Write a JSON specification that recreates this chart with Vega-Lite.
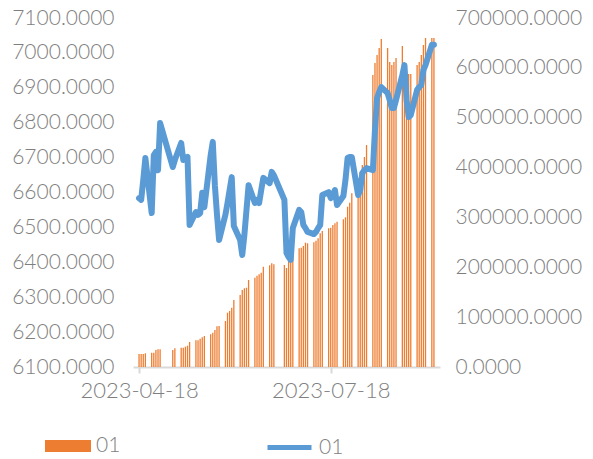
{
  "$schema": "https://vega.github.io/schema/vega-lite/v6.json",
  "width": 307,
  "height": 349,
  "autosize": {"type": "none"},
  "padding": {"left": 133, "top": 18, "right": 153, "bottom": 92},
  "background": "white",
  "config": {
    "view": {"stroke": null},
    "font": "Lato",
    "axis": {"labelFont": "Lato", "labelFontWeight": 300, "labelFontSize": 21, "labelColor": "#7F7F7F", "title": null, "grid": false},
    "legend": {"labelFont": "Lato", "labelFontWeight": 300, "labelFontSize": 21, "labelColor": "#7F7F7F"}
  },
  "data": {"values": [
    {"date": "2023-04-18", "price": 6584, "volume": 26078},
    {"date": "2023-04-19", "price": 6579, "volume": 26078},
    {"date": "2023-04-20", "price": 6636, "volume": 26078},
    {"date": "2023-04-21", "price": 6699, "volume": 27482},
    {"date": "2023-04-24", "price": 6541, "volume": 28686},
    {"date": "2023-04-25", "price": 6707, "volume": 28686},
    {"date": "2023-04-26", "price": 6716, "volume": 34102},
    {"date": "2023-04-27", "price": 6664, "volume": 35506},
    {"date": "2023-04-28", "price": 6799, "volume": 35506},
    {"date": "2023-05-04", "price": 6673, "volume": 34102},
    {"date": "2023-05-05", "price": 6693, "volume": 37512},
    {"date": "2023-05-08", "price": 6742, "volume": 38716},
    {"date": "2023-05-09", "price": 6693, "volume": 38716},
    {"date": "2023-05-10", "price": 6699, "volume": 40722},
    {"date": "2023-05-11", "price": 6702, "volume": 42728},
    {"date": "2023-05-12", "price": 6507, "volume": 50150},
    {"date": "2023-05-15", "price": 6544, "volume": 53560},
    {"date": "2023-05-16", "price": 6536, "volume": 53560},
    {"date": "2023-05-17", "price": 6541, "volume": 56770},
    {"date": "2023-05-18", "price": 6599, "volume": 59578},
    {"date": "2023-05-19", "price": 6558, "volume": 62186},
    {"date": "2023-05-22", "price": 6707, "volume": 65596},
    {"date": "2023-05-23", "price": 6745, "volume": 68806},
    {"date": "2023-05-24", "price": 6621, "volume": 74222},
    {"date": "2023-05-25", "price": 6536, "volume": 81644},
    {"date": "2023-05-26", "price": 6464, "volume": 82246},
    {"date": "2023-05-29", "price": 6536, "volume": 92276},
    {"date": "2023-05-30", "price": 6570, "volume": 108926},
    {"date": "2023-05-31", "price": 6607, "volume": 112336},
    {"date": "2023-06-01", "price": 6644, "volume": 118956},
    {"date": "2023-06-02", "price": 6504, "volume": 134402},
    {"date": "2023-06-05", "price": 6464, "volume": 144432},
    {"date": "2023-06-06", "price": 6421, "volume": 154462},
    {"date": "2023-06-07", "price": 6478, "volume": 157872},
    {"date": "2023-06-08", "price": 6550, "volume": 159076},
    {"date": "2023-06-09", "price": 6621, "volume": 174522},
    {"date": "2023-06-12", "price": 6570, "volume": 179136},
    {"date": "2023-06-13", "price": 6579, "volume": 183148},
    {"date": "2023-06-14", "price": 6570, "volume": 185956},
    {"date": "2023-06-15", "price": 6607, "volume": 189166},
    {"date": "2023-06-16", "price": 6642, "volume": 201202},
    {"date": "2023-06-19", "price": 6627, "volume": 204010},
    {"date": "2023-06-20", "price": 6659, "volume": 208022},
    {"date": "2023-06-21", "price": 6650, "volume": 206016},
    {"date": "2023-06-26", "price": 6579, "volume": 204612},
    {"date": "2023-06-27", "price": 6427, "volume": 198594},
    {"date": "2023-06-28", "price": 6415, "volume": 214642},
    {"date": "2023-06-29", "price": 6407, "volume": 218654},
    {"date": "2023-06-30", "price": 6498, "volume": 228684},
    {"date": "2023-07-03", "price": 6550, "volume": 238112},
    {"date": "2023-07-04", "price": 6544, "volume": 239316},
    {"date": "2023-07-05", "price": 6507, "volume": 242726},
    {"date": "2023-07-06", "price": 6498, "volume": 249346},
    {"date": "2023-07-07", "price": 6487, "volume": 248142},
    {"date": "2023-07-10", "price": 6481, "volume": 250148},
    {"date": "2023-07-11", "price": 6487, "volume": 253358},
    {"date": "2023-07-12", "price": 6498, "volume": 258172},
    {"date": "2023-07-13", "price": 6507, "volume": 268202},
    {"date": "2023-07-14", "price": 6593, "volume": 272816},
    {"date": "2023-07-17", "price": 6601, "volume": 278232},
    {"date": "2023-07-18", "price": 6584, "volume": 279436},
    {"date": "2023-07-19", "price": 6593, "volume": 284852},
    {"date": "2023-07-20", "price": 6607, "volume": 288262},
    {"date": "2023-07-21", "price": 6564, "volume": 291472},
    {"date": "2023-07-24", "price": 6590, "volume": 296286},
    {"date": "2023-07-25", "price": 6636, "volume": 300298},
    {"date": "2023-07-26", "price": 6699, "volume": 321562},
    {"date": "2023-07-27", "price": 6702, "volume": 329586},
    {"date": "2023-07-28", "price": 6702, "volume": 348442},
    {"date": "2023-07-31", "price": 6593, "volume": 379134},
    {"date": "2023-08-01", "price": 6607, "volume": 391170},
    {"date": "2023-08-02", "price": 6656, "volume": 405212},
    {"date": "2023-08-03", "price": 6664, "volume": 421260},
    {"date": "2023-08-04", "price": 6670, "volume": 445332},
    {"date": "2023-08-07", "price": 6664, "volume": 585752},
    {"date": "2023-08-08", "price": 6779, "volume": 609824},
    {"date": "2023-08-09", "price": 6871, "volume": 625872},
    {"date": "2023-08-10", "price": 6888, "volume": 639914},
    {"date": "2023-08-11", "price": 6902, "volume": 657968},
    {"date": "2023-08-14", "price": 6885, "volume": 639914},
    {"date": "2023-08-15", "price": 6865, "volume": 611830},
    {"date": "2023-08-16", "price": 6842, "volume": 605812},
    {"date": "2023-08-17", "price": 6842, "volume": 611830},
    {"date": "2023-08-18", "price": 6865, "volume": 619854},
    {"date": "2023-08-21", "price": 6937, "volume": 643926},
    {"date": "2023-08-22", "price": 6965, "volume": 587758},
    {"date": "2023-08-23", "price": 6865, "volume": 587758},
    {"date": "2023-08-24", "price": 6816, "volume": 587758},
    {"date": "2023-08-25", "price": 6822, "volume": 587758},
    {"date": "2023-08-28", "price": 6894, "volume": 605812},
    {"date": "2023-08-29", "price": 6902, "volume": 611830},
    {"date": "2023-08-30", "price": 6908, "volume": 625872},
    {"date": "2023-08-31", "price": 6951, "volume": 645932},
    {"date": "2023-09-01", "price": 6965, "volume": 659974},
    {"date": "2023-09-04", "price": 7023, "volume": 659974},
    {"date": "2023-09-05", "price": 7023, "volume": 659974}
  ]},
  "encoding": {
    "x": {
      "field": "date",
      "type": "temporal",
      "scale": {
        "type": "utc",
        "domain": [
          {"year": 2023, "month": 4, "date": 17, "hours": 12, "utc": true},
          {"year": 2023, "month": 9, "date": 5, "hours": 12, "utc": true}
        ]
      },
      "axis": {
        "values": [
          {"year": 2023, "month": 4, "date": 18, "utc": true},
          {"year": 2023, "month": 7, "date": 18, "utc": true}
        ],
        "format": "%Y-%m-%d",
        "domainColor": "#D9D9D9",
        "domainWidth": 2,
        "tickColor": "#D9D9D9",
        "tickWidth": 2,
        "tickSize": 6,
        "labelPadding": 7,
        "labelFontSize": 22,
        "labelFlush": false,
        "labelOverlap": false
      }
    }
  },
  "layer": [
    {
      "mark": {"type": "bar", "width": 1.3},
      "encoding": {
        "y": {
          "field": "volume",
          "type": "quantitative",
          "scale": {"domain": [0, 700000], "nice": false, "zero": true},
          "axis": {
            "orient": "right",
            "values": [0, 100000, 200000, 300000, 400000, 500000, 600000, 700000],
            "format": ".4f",
            "domain": false,
            "ticks": false,
            "labelPadding": 15
          }
        },
        "fill": {
          "datum": "01",
          "type": "nominal",
          "scale": {"range": ["#ED7D31"]},
          "legend": {
            "orient": "none",
            "legendX": -88,
            "legendY": 405,
            "padding": 0,
            "symbolType": "M-1,-0.26H1V0.26H-1Z",
            "symbolSize": 2116,
            "symbolStrokeWidth": 0,
            "labelOffset": 5,
            "title": null
          }
        }
      }
    },
    {
      "mark": {"type": "line", "strokeWidth": 6, "strokeJoin": "round", "strokeCap": "round"},
      "encoding": {
        "y": {
          "field": "price",
          "type": "quantitative",
          "scale": {"domain": [6100, 7100], "nice": false, "zero": false},
          "axis": {
            "orient": "left",
            "values": [6100, 6200, 6300, 6400, 6500, 6600, 6700, 6800, 6900, 7000, 7100],
            "format": ".4f",
            "domain": false,
            "ticks": false,
            "labelPadding": 19
          }
        },
        "stroke": {
          "datum": "01",
          "type": "nominal",
          "scale": {"range": ["#5B9BD5"]},
          "legend": {
            "orient": "none",
            "legendX": 132,
            "legendY": 405,
            "padding": 0,
            "symbolType": "M-1,0H1",
            "symbolSize": 1936,
            "symbolStrokeWidth": 5,
            "labelOffset": 5,
            "title": null
          }
        }
      }
    }
  ],
  "resolve": {"scale": {"y": "independent"}, "legend": {"fill": "independent", "stroke": "independent"}}
}
